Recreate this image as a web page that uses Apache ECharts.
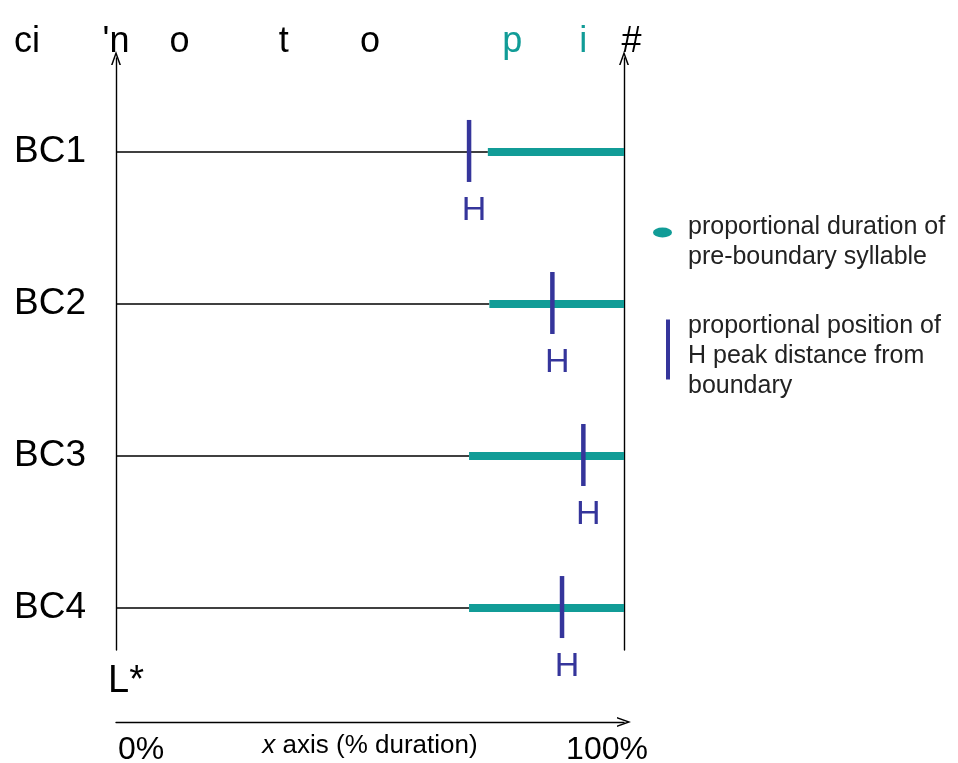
<!DOCTYPE html>
<html><head><meta charset="utf-8">
<script src="https://cdn.jsdelivr.net/npm/echarts@6/dist/echarts.min.js"></script>
<style>html,body{margin:0;padding:0;background:#fff}#c{width:958px;height:763px}</style>
</head><body><div id="c"></div>
<script>
// ---- data ----
const rows = ['BC1', 'BC2', 'BC3', 'BC4'];
const sylStart = [73.2, 73.5, 69.5, 69.5];   // % start of pre-boundary syllable
const hPeak = [69.5, 85.9, 92.0, 87.8];      // % position of H peak
const syllables = ['ci', "'n", 'o', 't', 'o', 'p', 'i', '#'];
const syllableX = [-17.5, 0, 12.5, 33, 50, 78, 92, 101.5];
const syllableTarget = [false, false, false, false, false, true, true, false];
const xTicks = [0, 100];
const legendNames = ['proportional duration of\npre-boundary syllable',
  'proportional position of\nH peak distance from\nboundary'];

const FONT = '"Liberation Sans", Arial, Helvetica, sans-serif';
const TEAL = '#119c97';
const BLUE = '#35359b';
const CHEV = 'path://M0,14 L5,0 L10,14 L8.4,14 L5,4.2 L1.6,14 Z';

const rowVal = i => rows.length - i; // BC1 at top
const baseData = rows.map((r, i) => [rowVal(i), sylStart[i]]);
const sylData = rows.map((r, i) => [rowVal(i), sylStart[i]]);
const hData = rows.map((r, i) => [rowVal(i), hPeak[i]]);
const topData = syllables.map((s, i) => [syllableX[i], i]);

const chart = echarts.init(document.getElementById('c'), null, {renderer: 'canvas'});
const yCommon = {
  type: 'value', min: 0.724, max: 4.618,
  axisTick: {show: false}, splitLine: {show: false},
  axisLine: {show: true, onZero: false, lineStyle: {color: '#000', width: 1.4},
    symbol: ['none', CHEV], symbolSize: [10, 14]}
};
const mkLegendText = s => '{t|' + s.split('\n').join('}\n{t|') + '}';
chart.setOption({
  animation: false,
  backgroundColor: '#fff',
  textStyle: {fontFamily: FONT},
  grid: {left: 116, right: 334, top: 58, bottom: 113, containLabel: false, outerBoundsMode: 'none'},
  xAxis: {
    type: 'value', min: 0, max: 100, position: 'bottom', offset: 72,
    axisLine: {show: true, onZero: false, lineStyle: {color: '#000', width: 1.4},
      symbol: ['none', CHEV], symbolSize: [10, 14]},
    axisTick: {show: false}, splitLine: {show: false},
    axisLabel: {customValues: xTicks, fontSize: 32, color: '#000', margin: 12, fontFamily: FONT,
      formatter: v => v === 0 ? '{l|0%}' : '{r|' + v + '%}',
      rich: {l: {fontSize: 32, padding: [0, 0, 0, 50], fontFamily: FONT, color: '#000'},
             r: {fontSize: 32, padding: [0, 34, 0, 0], fontFamily: FONT, color: '#000'}}},
    name: '{i|x} axis (% duration)', nameLocation: 'middle', nameGap: 11, nameMoveOverlap: false,
    nameTextStyle: {fontSize: 26, color: '#000', fontFamily: FONT, verticalAlign: 'top',
      rich: {i: {fontStyle: 'italic', fontSize: 26, color: '#000', fontFamily: FONT}}}
  },
  yAxis: [
    Object.assign({}, yCommon, {
      position: 'left',
      axisLabel: {customValues: [1, 2, 3, 4], formatter: v => rows[rows.length - v],
        fontSize: 37, color: '#000', margin: 30, fontFamily: FONT},
      name: 'L*', nameLocation: 'start', nameGap: 13, nameMoveOverlap: false,
      nameTextStyle: {fontSize: 38, color: '#000', fontFamily: FONT, verticalAlign: 'top',
        padding: [0, 0, 0, 20]}
    }),
    Object.assign({}, yCommon, {position: 'right', axisLabel: {show: false}})
  ],
  legend: [
    {data: [{name: 'dur', icon: 'path://M0,5 A9.5,5 0 1 1 19,5 A9.5,5 0 1 1 0,5 Z'}],
      left: 653, top: 215, padding: 0, itemWidth: 19, itemHeight: 10, selectedMode: false,
      formatter: () => mkLegendText(legendNames[0]),
      textStyle: {padding: [20, 0, 0, 11],
        rich: {t: {fontSize: 25, lineHeight: 30, color: '#222', fontFamily: FONT}}}},
    {data: [{name: 'peak', icon: 'rect'}],
      left: 666, top: 314, padding: 0, itemWidth: 4, itemHeight: 60, selectedMode: false,
      formatter: () => mkLegendText(legendNames[1]),
      textStyle: {padding: [14, 0, 0, 13],
        rich: {t: {fontSize: 25, lineHeight: 30, color: '#222', fontFamily: FONT}}}}
  ],
  series: [
    {
      type: 'custom', name: 'base', silent: true, z: 1,
      data: baseData,
      renderItem: (params, api) => {
        const y = api.value(0);
        const p0 = api.coord([0, y]);
        const p1 = api.coord([api.value(1), y]);
        return {type: 'line', shape: {x1: p0[0], y1: p0[1], x2: p1[0], y2: p1[1]},
          style: {stroke: '#000', lineWidth: 1.4}};
      }
    },
    {
      type: 'custom', name: 'dur', z: 2, itemStyle: {color: TEAL},
      data: sylData,
      renderItem: (params, api) => {
        const y = api.value(0);
        const p1 = api.coord([api.value(1), y]);
        const p2 = api.coord([100, y]);
        return {type: 'line', shape: {x1: p1[0], y1: p1[1], x2: p2[0], y2: p2[1]},
          style: {stroke: TEAL, lineWidth: 8, lineCap: 'butt'}};
      }
    },
    {
      type: 'custom', name: 'peak', z: 3, itemStyle: {color: BLUE},
      data: hData,
      renderItem: (params, api) => {
        const c = api.coord([api.value(1), api.value(0)]);
        return {type: 'group', children: [
          {type: 'line', shape: {x1: c[0], y1: c[1] - 32, x2: c[0], y2: c[1] + 30},
            style: {stroke: BLUE, lineWidth: 4.5}},
          {type: 'text', x: c[0] + 5, y: c[1] + 59,
            style: {text: 'H', fill: BLUE, fontSize: 34, fontFamily: FONT,
              align: 'center', verticalAlign: 'middle'}}
        ]};
      }
    },
    {
      type: 'custom', name: 'top', silent: true, z: 4,
      data: topData,
      clip: false,
      renderItem: (params, api) => {
        const i = api.value(1);
        const c = api.coord([api.value(0), 4]);
        return {type: 'text', x: c[0], y: params.coordSys.y - 16,
          style: {text: syllables[i], fill: syllableTarget[i] ? TEAL : '#000',
            fontSize: 36, fontFamily: FONT, align: 'center', verticalAlign: 'middle'}};
      }
    }
  ]
});
</script>
</body></html>
